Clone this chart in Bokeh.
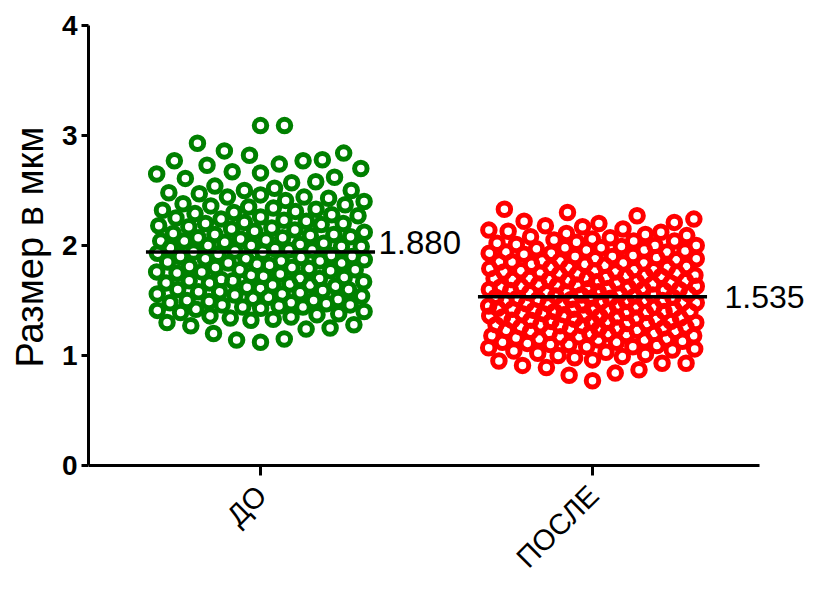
import math
from bokeh.plotting import figure
from bokeh.models import FixedTicker, Label, ColumnDataSource, Range1d, Title
from bokeh.core.properties import value
from bokeh.embed import file_html
from bokeh.resources import INLINE

# ---------------- data ----------------
categories = ["ДО", "ПОСЛЕ"]
group_colors = ["#008000", "#FF0000"]
line_values = [1.94, 1.535]          # horizontal lines drawn in the chart
line_labels = ["1.880", "1.535"]     # numbers printed next to the lines
y_ticks = [0, 1, 2, 3, 4]
y_title = "Размер в мкм"

before = [
    3.09, 3.09,
    2.93, 2.86,
    2.84, 2.82, 2.78, 2.77, 2.77,
    2.74, 2.73, 2.70, 2.67, 2.66,
    2.65, 2.62, 2.61, 2.58, 2.57,
    2.54, 2.52, 2.50, 2.50, 2.48, 2.47, 2.46,
    2.44, 2.44, 2.43, 2.41, 2.40, 2.38, 2.37, 2.36, 2.35,
    2.34, 2.33, 2.32, 2.31, 2.30, 2.29, 2.28, 2.27, 2.26, 2.25,
    2.24, 2.23, 2.22, 2.21, 2.20, 2.20, 2.19, 2.18, 2.17, 2.16, 2.15,
    2.14, 2.13, 2.12, 2.11, 2.10, 2.10, 2.09, 2.08, 2.07, 2.07, 2.06, 2.05,
    2.04, 2.04, 2.03, 2.02, 2.01, 2.00, 2.00, 1.99, 1.99, 1.98, 1.97, 1.96, 1.96, 1.95,
    1.94, 1.94, 1.93, 1.92, 1.91, 1.90, 1.90, 1.89, 1.88, 1.88, 1.87, 1.86, 1.86, 1.85,
    1.84, 1.84, 1.83, 1.82, 1.81, 1.80, 1.80, 1.79, 1.78, 1.78, 1.77, 1.76, 1.76, 1.75,
    1.74, 1.73, 1.72, 1.71, 1.70, 1.70, 1.69, 1.68, 1.68, 1.67, 1.66, 1.66, 1.65,
    1.64, 1.64, 1.63, 1.62, 1.61, 1.60, 1.60, 1.59, 1.58, 1.58, 1.57, 1.56, 1.56, 1.55,
    1.54, 1.53, 1.52, 1.51, 1.50, 1.50, 1.49, 1.48, 1.48, 1.47, 1.46, 1.46, 1.45,
    1.44, 1.44, 1.43, 1.42, 1.41, 1.40, 1.39, 1.38, 1.37, 1.36, 1.35,
    1.34, 1.33, 1.32, 1.30, 1.28, 1.27, 1.25,
    1.24, 1.20, 1.15,
    1.14, 1.12,
]

after = [
    2.33, 2.30, 2.27,
    2.24, 2.22, 2.21, 2.20, 2.18, 2.17, 2.15,
    2.14, 2.13, 2.12, 2.11, 2.10, 2.09, 2.08, 2.07, 2.06, 2.05,
    2.04, 2.04, 2.03, 2.02, 2.01, 2.00, 2.00, 1.99, 1.98, 1.98, 1.97, 1.96, 1.96, 1.95,
    1.94, 1.94, 1.93, 1.93, 1.92, 1.91, 1.90, 1.90, 1.89, 1.88, 1.88, 1.87, 1.86, 1.86, 1.85, 1.85,
    1.84, 1.84, 1.83, 1.83, 1.82, 1.81, 1.80, 1.80, 1.80, 1.79, 1.78, 1.78, 1.77, 1.77, 1.76, 1.76, 1.75, 1.75,
    1.74, 1.74, 1.73, 1.73, 1.72, 1.72, 1.71, 1.70, 1.70, 1.70, 1.69, 1.69, 1.68, 1.68, 1.67, 1.67, 1.66, 1.66, 1.65, 1.65,
    1.64, 1.64, 1.63, 1.63, 1.62, 1.62, 1.61, 1.61, 1.60, 1.60, 1.60, 1.59, 1.59, 1.58, 1.58, 1.57, 1.57, 1.56, 1.56, 1.55, 1.55,
    1.54, 1.54, 1.53, 1.53, 1.52, 1.52, 1.52, 1.51, 1.51, 1.50, 1.50, 1.50, 1.49, 1.49, 1.48, 1.48, 1.47, 1.47, 1.46, 1.46, 1.45, 1.45,
    1.44, 1.44, 1.43, 1.43, 1.42, 1.42, 1.42, 1.41, 1.41, 1.40, 1.40, 1.40, 1.39, 1.39, 1.38, 1.38, 1.37, 1.37, 1.36, 1.36, 1.35, 1.35,
    1.34, 1.34, 1.33, 1.33, 1.32, 1.32, 1.31, 1.31, 1.30, 1.30, 1.30, 1.29, 1.29, 1.28, 1.28, 1.27, 1.27, 1.26, 1.26, 1.25, 1.25,
    1.24, 1.24, 1.23, 1.23, 1.22, 1.22, 1.21, 1.20, 1.20, 1.20, 1.19, 1.18, 1.18, 1.17, 1.17, 1.16, 1.15, 1.15,
    1.14, 1.14, 1.13, 1.12, 1.12, 1.11, 1.10, 1.10, 1.09, 1.08, 1.08, 1.07, 1.06, 1.05,
    1.04, 1.03, 1.02, 1.01, 1.00, 0.99, 0.98, 0.96, 0.95,
    0.93, 0.93, 0.91, 0.89, 0.87,
    0.84, 0.82, 0.77,
]

groups = [before, after]

# ---------------- layout helpers ----------------
FONT = "Liberation Sans"
W, H = 807, 574
LEFT, TOP, ZERO_PX = 88, 25, 465
PX_PER_X = 332.0            # pixels per x unit (category spacing)
PX_PER_Y = (ZERO_PX - TOP) / 4.0
X0 = 1 - (260 - LEFT) / PX_PER_X
X1 = 2 + (W - 592) / PX_PER_X
Y0 = -(H - ZERO_PX) / PX_PER_Y
AXIS_END = 2 + (759 - 592) / PX_PER_X
WMAX = 104.0                # max half spread of a swarm, px
C0 = 24.0                   # preferred centre distance between markers, px


def beeswarm(vals, center):
    """Place points as close to the centre as possible, overlapping only when crowded."""
    n = len(vals)
    order = sorted(range(n), key=lambda i: vals[i])
    placed = []
    xs = [0.0] * n
    flip = 1
    for i in order:
        y = vals[i] * PX_PER_Y
        c = C0
        found = None
        while found is None:
            near = [(px, py) for px, py in placed if abs(py - y) < c]
            cands = [0.0]
            for px, py in near:
                d = math.sqrt(max(c * c - (py - y) ** 2, 0.0))
                cands += [px + d, px - d]
            cands = [x for x in cands if abs(x) <= WMAX + 1e-9]
            cands.sort(key=lambda x: (round(abs(x), 6), -flip * x))
            for x in cands:
                if all((x - px) ** 2 + (y - py) ** 2 >= c * c - 1e-6 for px, py in near):
                    found = x
                    break
            c *= 0.93
        flip = -flip
        placed.append((found, y))
        xs[i] = center + found / PX_PER_X
    return xs, list(vals)


p = figure(width=W, height=H, output_backend="svg", toolbar_location=None,
           x_range=Range1d(X0, X1), y_range=Range1d(Y0, 4),
           min_border_left=LEFT, min_border_right=0,
           min_border_top=TOP, min_border_bottom=0)

p.outline_line_color = None
p.xgrid.visible = False
p.ygrid.visible = False
p.background_fill_color = "white"
p.border_fill_color = "white"
p.xaxis.visible = False

for gi, (vals, col) in enumerate(zip(groups, group_colors)):
    xs, ys = beeswarm(vals, gi + 1)
    src = ColumnDataSource(dict(x=xs, y=ys))
    p.scatter("x", "y", source=src, marker="circle", size=12.5,
              fill_alpha=0, line_color=col, line_width=5.0)

for gi, lv in enumerate(line_values):
    c = gi + 1
    p.line([c - 0.345, c + 0.345], [lv, lv], line_color="black", line_width=3.5)

label_pos = [(1 + (378 - 260) / PX_PER_X, 2.03), (2 + (724 - 592) / PX_PER_X, 1.536)]
label_size = ["33px", "32px"]
for (lx, ly), txt, fs in zip(label_pos, line_labels, label_size):
    p.add_layout(Label(x=lx, y=ly, text=txt, text_align="left",
                       text_baseline="middle", text_font=FONT,
                       text_font_size=fs, text_color="black"))

# category (x) axis: line, ticks and rotated labels on the value-0 baseline
cat_pos = [i + 1 for i in range(len(categories))]
p.line([X0, AXIS_END], [0, 0], line_color="black", line_width=3)
p.segment(x0=cat_pos, y0=[0] * len(cat_pos), x1=cat_pos,
          y1=[-10 / PX_PER_Y] * len(cat_pos), line_color="black", line_width=3)
cat_src = ColumnDataSource(dict(x=[c + 1 / PX_PER_X for c in cat_pos],
                                y=[-25 / PX_PER_Y] * len(cat_pos),
                                t=categories))
p.text(x="x", y="y", text="t", source=cat_src, angle=math.pi / 4,
       text_align="right", text_baseline="middle",
       text_font=value(FONT), text_font_size=value("29px"), text_color="black")

# value (y) axis
ya = p.yaxis[0]
ya.bounds = (0, 4)
ya.ticker = FixedTicker(ticks=y_ticks)
ya.axis_line_width = 3
ya.axis_line_color = "black"
ya.major_tick_line_width = 3
ya.major_tick_in = 0
ya.major_tick_out = 7
ya.minor_tick_line_color = None
ya.major_label_text_font = FONT
ya.major_label_text_color = "black"
ya.major_label_text_font_size = "28px"
ya.major_label_text_font_style = "bold"
ya.major_label_standoff = 4

p.add_layout(Title(text=y_title, align="left", offset=H - 367,
                   vertical_align="middle", standoff=14,
                   text_font=FONT, text_font_size="38px",
                   text_font_style="normal", text_color="black"), "left")

open("out.html", "w").write(file_html(p, INLINE))
